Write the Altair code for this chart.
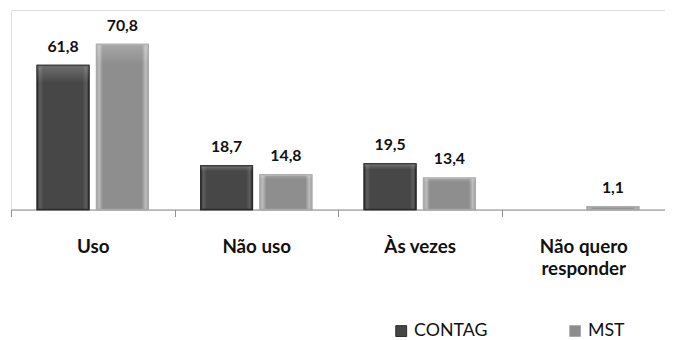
import altair as alt
import pandas as pd

categories = ["Uso", "Não uso", "Às vezes", "Não quero responder"]
series = ["CONTAG", "MST"]
contag = [61.8, 18.7, 19.5, None]
mst = [70.8, 14.8, 13.4, 1.1]

rows = []
for cat, c, m in zip(categories, contag, mst):
    if c is not None:
        rows.append({"category": cat, "series": "CONTAG", "value": c})
    if m is not None:
        rows.append({"category": cat, "series": "MST", "value": m})
df = pd.DataFrame(rows)

FONT = "Lato"

x = alt.X(
    "category:N",
    sort=categories,
    scale=alt.Scale(paddingInner=0, paddingOuter=0),
    axis=alt.Axis(
        title=None,
        labelAngle=0,
        tickBand="extent",
        grid=False,
        domainColor="#8c8c8c",
        tickColor="#8c8c8c",
        tickSize=7,
        labelFont=FONT,
        labelFontWeight="bold",
        labelFontSize=19,
        labelColor="#111111",
        labelPadding=21,
        labelLineHeight=23,
        labelExpr="datum.label == 'Não quero responder' ? ['Não quero', 'responder'] : datum.label",
    ),
)
y = alt.Y("value:Q", scale=alt.Scale(domain=[0, 85.6]), axis=None)
xo = alt.XOffset(
    "series:N",
    sort=series,
    scale=alt.Scale(paddingInner=0.131, paddingOuter=0.443),
)

base = alt.Chart(df)

bars = base.mark_bar(strokeWidth=1.5).encode(
    x=x,
    y=y,
    xOffset=xo,
    color=alt.Color(
        "series:N",
        sort=series,
        scale=alt.Scale(domain=series, range=["#454545", "#8c8c8c"]),
        legend=alt.Legend(
            title=None,
            orient="none",
            legendX=386,
            legendY=316,
            direction="horizontal",
            symbolType="square",
            symbolSize=121,
            symbolStrokeWidth=1,
            labelFont=FONT,
            labelFontSize=18,
            labelColor="#111111",
            labelOffset=4,
            columnPadding=79,
            padding=0,
        ),
    ),
    stroke=alt.Stroke(
        "series:N",
        sort=series,
        scale=alt.Scale(domain=series, range=["#2c2c2c", "#a9a9a9"]),
        legend=None,
    ),
)


def side_gradient(edge, rim, body):
    return alt.Gradient(
        gradient="linear",
        x1=0, y1=0, x2=1, y2=0,
        stops=[
            alt.GradientStop(color=edge, offset=0),
            alt.GradientStop(color=rim, offset=0.05),
            alt.GradientStop(color=body, offset=0.12),
            alt.GradientStop(color=body, offset=0.88),
            alt.GradientStop(color=rim, offset=0.95),
            alt.GradientStop(color=edge, offset=1),
        ],
    )


bevel_contag = base.transform_filter("datum.series == 'CONTAG'").mark_bar(
    color=side_gradient("#333333", "#5e5e5e", "#474747"),
    stroke="#2c2c2c",
    strokeWidth=1.5,
).encode(x=x, y=y, xOffset=xo)

bevel_mst = base.transform_filter("datum.series == 'MST'").mark_bar(
    color=side_gradient("#a4a4a4", "#bdbdbd", "#8e8e8e"),
    stroke="#a9a9a9",
    strokeWidth=1.5,
).encode(x=x, y=y, xOffset=xo)

top_shine = base.mark_bar(
    color=alt.Gradient(
        gradient="linear",
        x1=0, y1=0, x2=0, y2=1,
        stops=[
            alt.GradientStop(color="rgba(255,255,255,0.22)", offset=0),
            alt.GradientStop(color="rgba(255,255,255,0.0)", offset=0.12),
            alt.GradientStop(color="rgba(255,255,255,0.0)", offset=1),
        ],
    ),
).encode(x=x, y=y, xOffset=xo)

labels = base.transform_calculate(
    lbl="replace(format(datum.value, '.1f'), '.', ',')"
).mark_text(
    font=FONT, fontWeight="bold", fontSize=16, baseline="bottom", dy=-11, color="#111111"
).encode(
    x=x,
    y=y,
    xOffset=xo,
    text="lbl:N",
)

chart = (
    alt.layer(bars, bevel_contag, bevel_mst, top_shine, labels)
    .properties(
        width=662,
        height=202,
        padding={"left": 3, "top": 0, "right": 0, "bottom": 130},
        autosize=alt.AutoSizeParams(type="none"),
    )
    .configure_view(stroke=None)
    .configure(background="white")
)

chart.save("out.html", embed_options={"renderer": "svg", "actions": False})
